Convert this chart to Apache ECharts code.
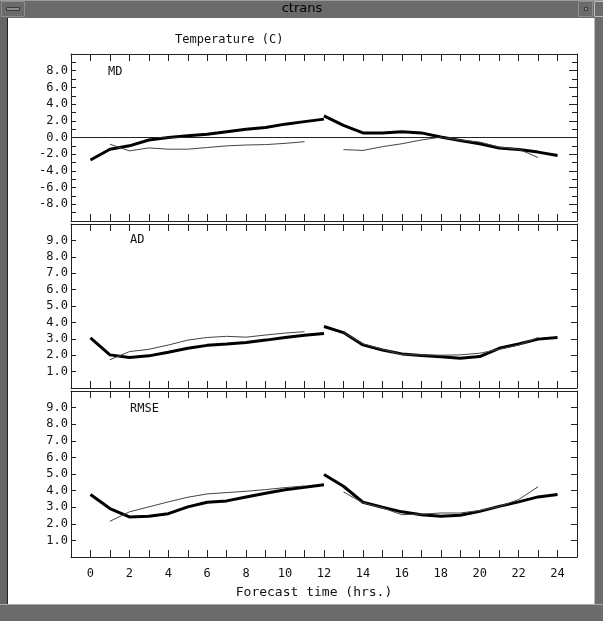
<!DOCTYPE html>
<html><head><meta charset="utf-8">
<script src="https://cdn.jsdelivr.net/npm/echarts@6/dist/echarts.min.js"></script>
<style>html,body{margin:0;padding:0;background:#fff}#c{width:603px;height:621px}</style>
</head><body><div id="c"></div>
<script>
// ---- data ----
const hoursA = [0,1,2,3,4,5,6,7,8,9,10,11,12];
const hoursB = [12,13,14,15,16,17,18,19,20,21,22,23,24];
const thinHoursA = [1,2,3,4,5,6,7,8,9,10,11];
const thinHoursB = [13,14,15,16,17,18,19,20,21,22,23];
const xTickLabels = [0,2,4,6,8,10,12,14,16,18,20,22,24];
const mdTickLabels = [-8,-6,-4,-2,0,2,4,6,8];
const errTickLabels = [1,2,3,4,5,6,7,8,9];
const panelNames = ['MD','AD','RMSE'];

const mdThickA = [-2.7,-1.4,-1.0,-0.3,0.0,0.2,0.4,0.7,1.0,1.2,1.6,1.9,2.2];
const mdThickB = [2.6,1.45,0.55,0.55,0.7,0.55,0.05,-0.35,-0.75,-1.25,-1.45,-1.75,-2.15];
const mdThinA  = [-0.8,-1.6,-1.25,-1.4,-1.4,-1.2,-1.0,-0.9,-0.85,-0.7,-0.5];
const mdThinB  = [-1.45,-1.55,-1.1,-0.75,-0.3,0.05,-0.3,-0.55,-1.15,-1.4,-2.4];

const adThickA = [3.05,2.02,1.86,1.96,2.18,2.42,2.6,2.68,2.78,2.92,3.08,3.22,3.32];
const adThickB = [3.75,3.38,2.63,2.32,2.08,1.98,1.9,1.82,1.92,2.42,2.68,2.98,3.08];
const adThinA  = [1.72,2.22,2.36,2.62,2.92,3.08,3.15,3.1,3.23,3.35,3.43];
const adThinB  = [3.38,2.7,2.36,2.04,2.02,2.0,2.02,2.12,2.36,2.62,3.08];

const rmseThickA = [3.76,2.92,2.41,2.45,2.61,3.02,3.3,3.38,3.62,3.84,4.05,4.2,4.35];
const rmseThickB = [4.97,4.26,3.3,3.0,2.72,2.55,2.45,2.51,2.75,3.05,3.32,3.62,3.76];
const rmseThinA  = [2.15,2.72,3.02,3.32,3.6,3.8,3.88,3.96,4.06,4.18,4.28];
const rmseThinB  = [3.92,3.26,2.96,2.55,2.58,2.65,2.65,2.8,3.04,3.46,4.23];

// ---- build ----
const FONT = 'DejaVu Sans Mono';
const zip = (xs, ys) => xs.map((x, i) => [x, ys[i]]);

const grids = [
  {left:71, right:26, top:54, height:167},
  {left:71, right:26, top:224, height:164},
  {left:71, right:26, top:391, height:166}
];

function xAx(i, pos, showLabels) {
  return {
    type:'value', gridIndex:i, position:pos, min:-1, max:25, interval:1,
    axisLine:{show:true, onZero:false, lineStyle:{color:'#222', width:1}},
    axisTick:{show:true, inside:true, length:7, lineStyle:{color:'#222'}},
    axisLabel:{show:showLabels, margin:11, color:'#111', fontFamily:FONT, fontSize:12,
      formatter: v => xTickLabels.includes(v) ? String(v) : ''},
    splitLine:{show:false}
  };
}
function yAx(i, pos, min, max, interval, minor, tickLen, labels) {
  return {
    type:'value', gridIndex:i, position:pos, min:min, max:max, interval:interval,
    axisLine:{show:true, onZero:false, lineStyle:{color:'#222', width:1}},
    axisTick:{show:true, inside:true, length:tickLen, lineStyle:{color:'#222'}},
    minorTick:{show:minor, splitNumber:2, length:5, lineStyle:{color:'#222'}},
    axisLabel:{show:!!labels, margin:3, color:'#111', fontFamily:FONT, fontSize:12,
      formatter: v => (labels && labels.includes(v)) ? v.toFixed(1) : ''},
    splitLine:{show:false}, minorSplitLine:{show:false}
  };
}

const xAxes = [], yAxes = [];
for (let i = 0; i < 3; i++) {
  xAxes.push(xAx(i, 'bottom', i === 2));
  xAxes.push(xAx(i, 'top', false));
  if (i === 0) {
    yAxes.push(yAx(i, 'left', -10, 10, 2, true, 5, mdTickLabels));
    yAxes.push(yAx(i, 'right', -10, 10, 2, true, 8, null));
  } else {
    yAxes.push(yAx(i, 'left', 0, 10, 1, false, 5, errTickLabels));
    yAxes.push(yAx(i, 'right', 0, 10, 1, false, 6, null));
  }
}

const panels = [
  [mdThickA, mdThickB, mdThinA, mdThinB],
  [adThickA, adThickB, adThinA, adThinB],
  [rmseThickA, rmseThickB, rmseThinA, rmseThinB]
];
const series = [];
panels.forEach((p, i) => {
  const base = {type:'line', xAxisIndex:2*i, yAxisIndex:2*i, symbol:'none', silent:true, animation:false};
  series.push(Object.assign({}, base, {data:zip(hoursA, p[0]), lineStyle:{color:'#000', width:3}, z:3,
    markLine: i === 0 ? {symbol:'none', silent:true, label:{show:false},
      lineStyle:{color:'#222', type:'solid', width:1}, data:[{yAxis:0}]} : undefined}));
  series.push(Object.assign({}, base, {data:zip(hoursB, p[1]), lineStyle:{color:'#000', width:3}, z:3}));
  series.push(Object.assign({}, base, {data:zip(thinHoursA, p[2]), lineStyle:{color:'#444', width:1}, z:4}));
  series.push(Object.assign({}, base, {data:zip(thinHoursB, p[3]), lineStyle:{color:'#444', width:1}, z:4}));
});

const labelPos = [[108,66],[130,234],[130,403]];
const txt = (x, y, s, extra) => ({type:'text', x:x, y:y, silent:true,
  style:Object.assign({text:s, fill:'#111', font:'12px "' + FONT + '"'}, extra || {})});

const graphic = [
  // window frame
  {type:'rect', shape:{x:0,y:0,width:603,height:18}, style:{fill:'#6b6b6b'}, silent:true},
  {type:'rect', shape:{x:0,y:0,width:603,height:1}, style:{fill:'#9c9c9c'}, silent:true},
  {type:'rect', shape:{x:1.5,y:1.5,width:23,height:15}, style:{fill:'#6b6b6b', stroke:'#8e8e8e', lineWidth:1}, silent:true},
  {type:'rect', shape:{x:6.5,y:7.5,width:13,height:3}, style:{fill:'#8e8e8e', stroke:'#3c3c3c', lineWidth:1}, silent:true},
  {type:'rect', shape:{x:578.5,y:1.5,width:14,height:15}, style:{fill:'#6b6b6b', stroke:'#8e8e8e', lineWidth:1}, silent:true},
  {type:'rect', shape:{x:584.5,y:7.5,width:3,height:3}, style:{fill:'#8e8e8e', stroke:'#3c3c3c', lineWidth:1}, silent:true},
  {type:'rect', shape:{x:594.5,y:1.5,width:10,height:15}, style:{fill:'#6b6b6b', stroke:'#bcbcbc', lineWidth:1}, silent:true},
  {type:'rect', shape:{x:0,y:18,width:8,height:603}, style:{fill:'#666'}, silent:true},
  {type:'rect', shape:{x:7,y:18,width:1,height:586}, style:{fill:'#222'}, silent:true},
  {type:'rect', shape:{x:595,y:18,width:8,height:603}, style:{fill:'#6b6b6b'}, silent:true},
  {type:'rect', shape:{x:594,y:18,width:1,height:586}, style:{fill:'#bbb'}, silent:true},
  {type:'rect', shape:{x:0,y:604,width:603,height:17}, style:{fill:'#6b6b6b'}, silent:true},
  {type:'rect', shape:{x:0,y:604,width:603,height:1}, style:{fill:'#aaa'}, silent:true},
  txt(302, 9, 'ctrans', {font:'13px "DejaVu Sans"', fill:'#000', align:'center', verticalAlign:'middle'}),
  // texts
  txt(175, 34, 'Temperature (C)'),
  txt(314, 593, 'Forecast time (hrs.)', {font:'13px "' + FONT + '"', align:'center', verticalAlign:'middle'})
];
panelNames.forEach((n, i) => graphic.push(txt(labelPos[i][0], labelPos[i][1], n)));

const chart = echarts.init(document.getElementById('c'), null, {renderer:'canvas'});
chart.setOption({
  animation:false,
  backgroundColor:'#fff',
  grid:grids,
  xAxis:xAxes,
  yAxis:yAxes,
  series:series,
  graphic:graphic
});
</script>
</body></html>
